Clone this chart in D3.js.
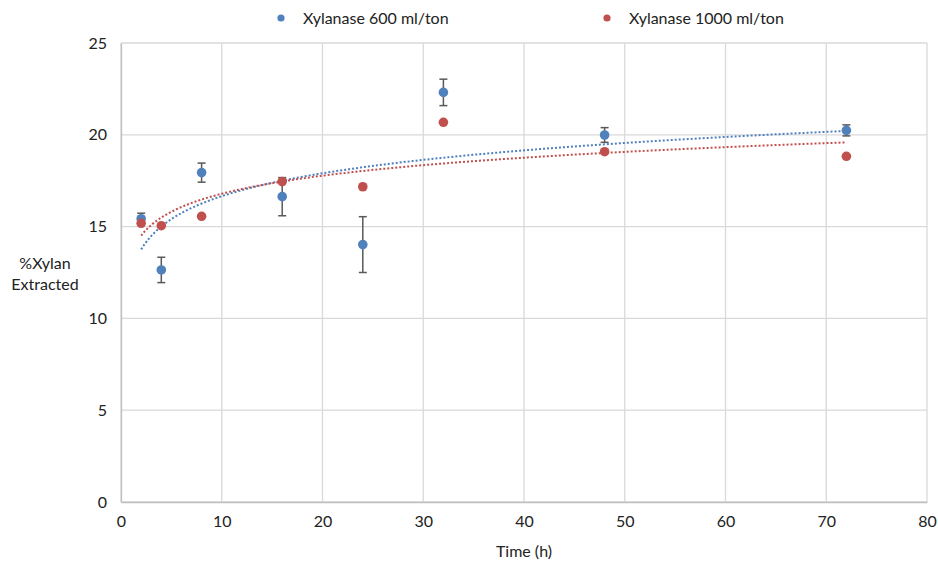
<!DOCTYPE html>
<html><head><meta charset="utf-8">
<script src="https://cdn.jsdelivr.net/npm/d3@7"></script>
<style>body{margin:0;background:#fff}svg{display:block}text{font-family:Lato,"Open Sans",sans-serif;fill:#222}</style>
</head><body><svg id="c" width="938" height="563"></svg>
<script>
const times = [2, 4, 8, 16, 24, 32, 48, 72];
const xyl600 = [15.43, 12.64, 17.94, 16.63, 14.02, 22.31, 19.99, 20.24];
const xyl600Err = [0.3, 0.69, 0.52, 1.04, 1.52, 0.72, 0.4, 0.3];
const xyl1000 = [15.18, 15.05, 15.56, 17.45, 17.17, 20.68, 19.08, 18.83];
const xTicks = [0, 10, 20, 30, 40, 50, 60, 70, 80];
const yTicks = [0, 5, 10, 15, 20, 25];
const seriesNames = ["Xylanase 600 ml/ton", "Xylanase 1000 ml/ton"];
const colors = ["#4f81bd", "#c0504d"];

const svg = d3.select("#c");
const x = d3.scaleLinear().domain([0, 80]).range([121, 927]);
const y = d3.scaleLinear().domain([0, 25]).range([502, 43]);

// grid
svg.append("g").selectAll("line").data(xTicks).join("line")
  .attr("x1", d => x(d)).attr("x2", d => x(d)).attr("y1", y(0)).attr("y2", y(25))
  .attr("stroke", "#d9d9d9").attr("stroke-width", 1.3);
svg.append("g").selectAll("line").data(yTicks).join("line")
  .attr("x1", x(0)).attr("x2", x(80)).attr("y1", d => y(d)).attr("y2", d => y(d))
  .attr("stroke", "#d9d9d9").attr("stroke-width", 1.3);

// axes
const xAxis = d3.axisBottom(x).tickValues(xTicks).tickSize(0).tickPadding(14);
const gx = svg.append("g").attr("transform", `translate(0,${y(0)})`).call(xAxis);
gx.select(".domain").attr("stroke", "#bfbfbf").attr("stroke-width", 1.3);
gx.selectAll("text").style("font-size", "16px").attr("fill", "#222");
const yAxis = d3.axisLeft(y).tickValues(yTicks).tickSize(0).tickPadding(14);
const gy = svg.append("g").attr("transform", `translate(${x(0)},0)`).call(yAxis);
gy.select(".domain").attr("stroke", "#bfbfbf").attr("stroke-width", 1.3);
gy.selectAll("text").style("font-size", "16px").attr("fill", "#222");

svg.append("text").attr("x", 524).attr("y", 557).attr("text-anchor", "middle").style("font-size", "16px").text("Time (h)");
svg.append("text").attr("x", 45).attr("y", 269).attr("text-anchor", "middle").style("font-size", "16px").text("%Xylan");
svg.append("text").attr("x", 45).attr("y", 290).attr("text-anchor", "middle").style("font-size", "16px").text("Extracted");

// log trendlines (least squares fit y = a ln x + b)
function logFit(xs, ys) {
  const lx = xs.map(Math.log);
  const mx = d3.mean(lx), my = d3.mean(ys);
  const a = d3.sum(lx, (v, i) => (v - mx) * (ys[i] - my)) / d3.sum(lx, v => (v - mx) ** 2);
  return { a, b: my - a * mx };
}
[xyl600, xyl1000].forEach((vals, si) => {
  const f = logFit(times, vals);
  const pts = d3.range(0, 201).map(i => {
    const t = times[0] + (times[times.length - 1] - times[0]) * i / 200;
    return [t, f.a * Math.log(t) + f.b];
  });
  svg.append("path").datum(pts)
    .attr("d", d3.line().x(d => x(d[0])).y(d => y(d[1])))
    .attr("fill", "none").attr("stroke", colors[si]).attr("stroke-width", 2)
    .attr("stroke-dasharray", "2,2");
});

// error bars for 600
const eg = svg.append("g").attr("stroke", "#595959").attr("stroke-width", 1.5);
times.forEach((t, i) => {
  const lo = y(xyl600[i] - xyl600Err[i]), hi = y(xyl600[i] + xyl600Err[i]);
  eg.append("line").attr("x1", x(t)).attr("x2", x(t)).attr("y1", lo).attr("y2", hi);
  eg.append("line").attr("x1", x(t) - 4).attr("x2", x(t) + 4).attr("y1", lo).attr("y2", lo);
  eg.append("line").attr("x1", x(t) - 4).attr("x2", x(t) + 4).attr("y1", hi).attr("y2", hi);
});

// points
svg.append("g").selectAll("circle").data(times).join("circle")
  .attr("cx", d => x(d)).attr("cy", (d, i) => y(xyl600[i])).attr("r", 4.8).attr("fill", colors[0]);
svg.append("g").selectAll("circle").data(times).join("circle")
  .attr("cx", d => x(d)).attr("cy", (d, i) => y(xyl1000[i])).attr("r", 4.8).attr("fill", colors[1]);

// legend
const legX = [281, 607];
seriesNames.forEach((n, i) => {
  svg.append("circle").attr("cx", legX[i]).attr("cy", 18).attr("r", 3.6).attr("fill", colors[i]);
  svg.append("text").attr("x", legX[i] + 22).attr("y", 24).style("font-size", "16px").text(n);
});
</script></body></html>
